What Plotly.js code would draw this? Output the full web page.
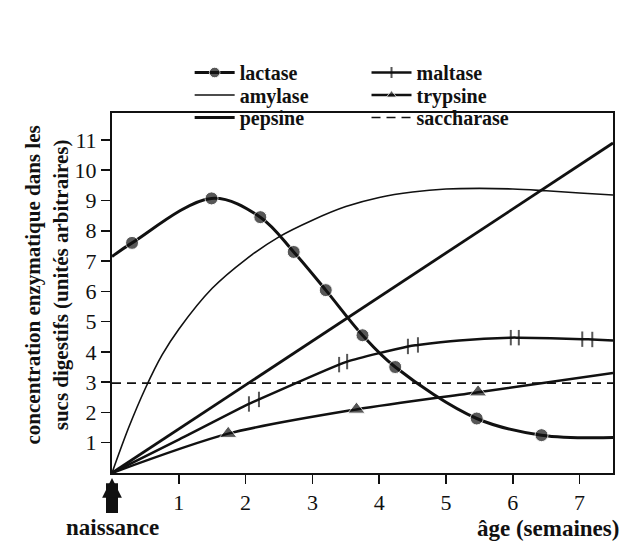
<!DOCTYPE html>
<html>
<head>
<meta charset="utf-8">
<script src="https://cdn.plot.ly/plotly-3.0.1.min.js"></script>
<style>html,body{margin:0;padding:0;background:#fff}#chart{width:637px;height:559px}</style>
</head>
<body>
<div id="chart"></div>
<script>
// ---- data ----
const lactaseX = [0, 0.3, 1.49, 2.22, 2.72, 3.2, 3.75, 4.24, 5.46, 6.43, 7.5];
const lactaseY = [7.15, 7.6, 9.07, 8.45, 7.3, 6.04, 4.55, 3.5, 1.8, 1.25, 1.17];
const lactaseMarked = [0, 1, 1, 1, 1, 1, 1, 1, 1, 1, 0];

const amylaseX = [0, 0.25, 0.5, 0.75, 1, 1.5, 2, 2.5, 3, 3.5, 4, 4.5, 5, 5.5, 6, 6.5, 7, 7.5];
const amylaseY = [0, 1.5, 2.8, 3.9, 4.75, 6.1, 7.05, 7.8, 8.35, 8.8, 9.1, 9.28, 9.38, 9.4, 9.38, 9.32, 9.25, 9.18];

const pepsineX = [0, 7.5];
const pepsineY = [0, 10.9];

const maltaseX = [0, 1, 2.05, 2.2, 3.4, 3.52, 4.43, 4.58, 5.2, 5.97, 6.09, 7.04, 7.19, 7.5];
const maltaseY = [0, 1.1, 2.28, 2.43, 3.58, 3.68, 4.18, 4.23, 4.38, 4.47, 4.47, 4.42, 4.41, 4.38];
const maltaseMarked = [0, 0, 1, 1, 1, 1, 1, 1, 0, 1, 1, 1, 1, 0];

const trypsineX = [0, 1.74, 3.66, 5.48, 7.5];
const trypsineY = [0, 1.3, 2.1, 2.67, 3.3];
const trypsineMarked = [0, 1, 1, 1, 0];

const saccharaseX = [0, 7.5];
const saccharaseY = [2.97, 2.97];

const xTicks = [1, 2, 3, 4, 5, 6, 7];
const yTicks = [1, 2, 3, 4, 5, 6, 7, 8, 9, 10, 11];

const names = ['lactase', 'amylase', 'pepsine', 'maltase', 'trypsine', 'saccharase'];
const yTitle = 'concentration enzymatique dans les<br>sucs digestifs (unités arbitraires)';
const xTitle = 'âge (semaines)';
const birthLabel = 'naissance';

// ---- drawing ----
const FONT = '"Liberation Serif", "DejaVu Serif", serif';
const INK = '#111';

const traces = [
  {x: lactaseX, y: lactaseY, name: names[0], mode: 'lines+markers', legend: 'legend',
   line: {color: INK, width: 3, shape: 'spline', smoothing: 1},
   marker: {symbol: 'circle', color: INK, size: lactaseMarked.map(m => m ? 13 : 0)}},
  {x: amylaseX, y: amylaseY, name: names[1], mode: 'lines', legend: 'legend2',
   line: {color: INK, width: 1.6, shape: 'spline', smoothing: 1}},
  {x: pepsineX, y: pepsineY, name: names[2], mode: 'lines', legend: 'legend3',
   line: {color: INK, width: 2.8}},
  {x: maltaseX, y: maltaseY, name: names[3], mode: 'lines+markers', legend: 'legend4',
   line: {color: INK, width: 2.5, shape: 'spline', smoothing: 1},
   marker: {symbol: 'line-ns', size: maltaseMarked.map(m => m ? 11 : 0), line: {color: INK, width: 2}}},
  {x: trypsineX, y: trypsineY, name: names[4], mode: 'lines+markers', legend: 'legend5',
   line: {color: INK, width: 2.5, shape: 'spline', smoothing: 0.8},
   marker: {symbol: 'triangle-up', color: INK, size: trypsineMarked.map(m => m ? 15 : 0)}},
  {x: saccharaseX, y: saccharaseY, name: names[5], mode: 'lines', legend: 'legend6',
   line: {color: INK, width: 1.6, dash: '9px,6px'}}
];

function leg(x, y) {
  return {x: x, y: y, xref: 'paper', yref: 'paper', xanchor: 'left', yanchor: 'middle',
    bgcolor: 'rgba(0,0,0,0)', borderwidth: 0, itemsizing: 'trace', itemwidth: 40,
    font: {family: FONT, size: 20, color: INK, weight: 'bold'}};
}

const layout = {
  width: 637, height: 559,
  margin: {l: 112, r: 24, t: 113, b: 86},
  paper_bgcolor: '#fff', plot_bgcolor: '#fff',
  font: {family: FONT, size: 21, color: INK},
  xaxis: {range: [0, 7.5], tickvals: xTicks, ticks: 'outside', ticklen: 9, tickwidth: 1.5,
    tickcolor: INK, showline: true, mirror: true, linewidth: 2, linecolor: INK,
    showgrid: false, zeroline: false, fixedrange: true,
    tickfont: {family: FONT, size: 22, color: INK}},
  yaxis: {range: [0, 11.89], tickvals: yTicks, ticks: 'outside', ticklen: 9, tickwidth: 1.5,
    tickcolor: INK, showline: true, mirror: true, linewidth: 2, linecolor: INK,
    showgrid: false, zeroline: false, fixedrange: true,
    tickfont: {family: FONT, size: 22, color: INK}},
  legend: leg(0.155, 1.1125),
  legend2: leg(0.155, 1.05),
  legend3: leg(0.155, 0.9875),
  legend4: leg(0.508, 1.1125),
  legend5: leg(0.508, 1.05),
  legend6: leg(0.508, 0.9875),
  annotations: [
    {text: yTitle, xref: 'paper', yref: 'paper', x: -0.131, y: 0.522, textangle: -90,
     xanchor: 'center', yanchor: 'middle', showarrow: false,
     font: {family: FONT, size: 21, color: INK, weight: 'bold'}},
    {text: birthLabel, xref: 'x', yref: 'y', x: 0, y: 0, ax: 0, ay: 54, axref: 'pixel', ayref: 'pixel',
     showarrow: true, arrowhead: 2, arrowsize: 0.33, arrowwidth: 12, arrowcolor: INK, standoff: 5,
     font: {family: FONT, size: 23, color: INK, weight: 'bold'}},
    {text: xTitle, xref: 'x', yref: 'paper', x: 6.52, y: 0, yshift: -55, showarrow: false,
     xanchor: 'center', yanchor: 'middle',
     font: {family: FONT, size: 23, color: INK, weight: 'bold'}}
  ],
  showlegend: true
};

Plotly.newPlot('chart', traces, layout, {staticPlot: true, displayModeBar: false});
</script>
</body>
</html>
